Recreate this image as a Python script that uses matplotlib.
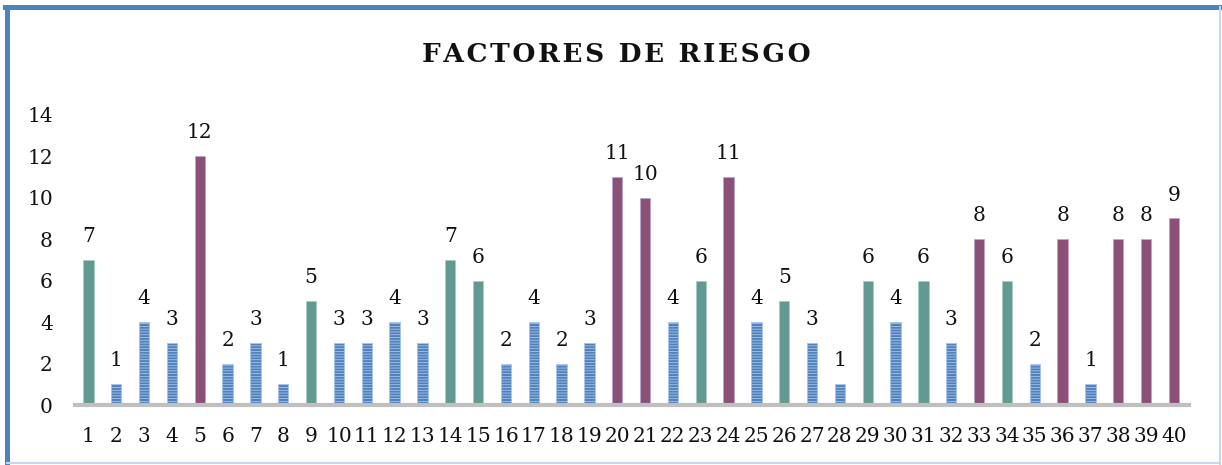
import matplotlib.pyplot as plt
from matplotlib.lines import Line2D

# factores de riesgo por caso
casos = list(range(1, 41))
valores = [7, 1, 4, 3, 12, 2, 3, 1, 5, 3, 3, 4, 3, 7, 6, 2, 4, 2, 3, 11,
           10, 4, 6, 11, 4, 5, 3, 1, 6, 4, 6, 3, 8, 6, 2, 8, 1, 8, 8, 9]
etiquetas = [str(c) for c in casos]
titulo = 'FACTORES DE RIESGO'

azul = '#4F81BD'
verde = '#629A92'
morado = '#8A5078'

def color_de(v):
    if v <= 4:
        return azul
    if v <= 7:
        return verde
    return morado

fig = plt.figure(figsize=(12.22, 4.65), dpi=100)
ax = fig.add_axes([0.0614, 0.129, 0.9116, 0.624])

fuente = 'DejaVu Serif'
tam = 14.5
plt.rcParams['hatch.color'] = '#8DB0DE'
plt.rcParams['hatch.linewidth'] = 0.6
for c, v in zip(casos, valores):
    col = color_de(v)
    if col == azul:
        ax.bar(c, v, width=0.37, color=col, hatch='------', edgecolor='#A9C4E8', linewidth=0.6)
    else:
        ax.bar(c, v, width=0.37, color=col, edgecolor='#B9A6C9' if col == morado else '#A9CCC6', linewidth=0.6)
    ax.annotate(str(v), (c, v), xytext=(0, 10), textcoords='offset points',
                ha='center', va='bottom', fontsize=tam, family=fuente, color='#111111')

ax.set_xlim(0.52, 40.54)
ax.set_ylim(0, 14)
ax.set_yticks(range(0, 15, 2))
ax.set_xticks(casos)
ax.set_xticklabels(etiquetas)
for s in ['top', 'right', 'left']:
    ax.spines[s].set_visible(False)
ax.spines['bottom'].set_color('#BFBFBF')
ax.spines['bottom'].set_linewidth(3)
ax.tick_params(axis='both', length=0, labelsize=tam, colors='#111111')
ax.tick_params(axis='x', pad=16)
ax.tick_params(axis='y', pad=16)
for t in ax.get_xticklabels() + ax.get_yticklabels():
    t.set_family(fuente)

# titulo con letras espaciadas
fig.text(0.504, 0.882, '\u200a'.join(titulo), ha='center', va='center',
         fontsize=19, fontweight='bold', family=fuente, color='#111111')

# marco del grafico
fig.add_artist(Line2D([0.0061, 0.0061], [0.0, 0.985], color=azul, lw=3.6, transform=fig.transFigure))
fig.add_artist(Line2D([0.0041, 0.9985], [0.984, 0.984], color=azul, lw=3.6, transform=fig.transFigure))
fig.add_artist(Line2D([0.9985, 0.9985], [0.0, 0.984], color='#C6D6EC', lw=1.5, transform=fig.transFigure))
fig.add_artist(Line2D([0.0061, 0.9985], [0.004, 0.004], color='#C6D6EC', lw=1.5, transform=fig.transFigure))

fig.savefig('out.png', dpi=100)
